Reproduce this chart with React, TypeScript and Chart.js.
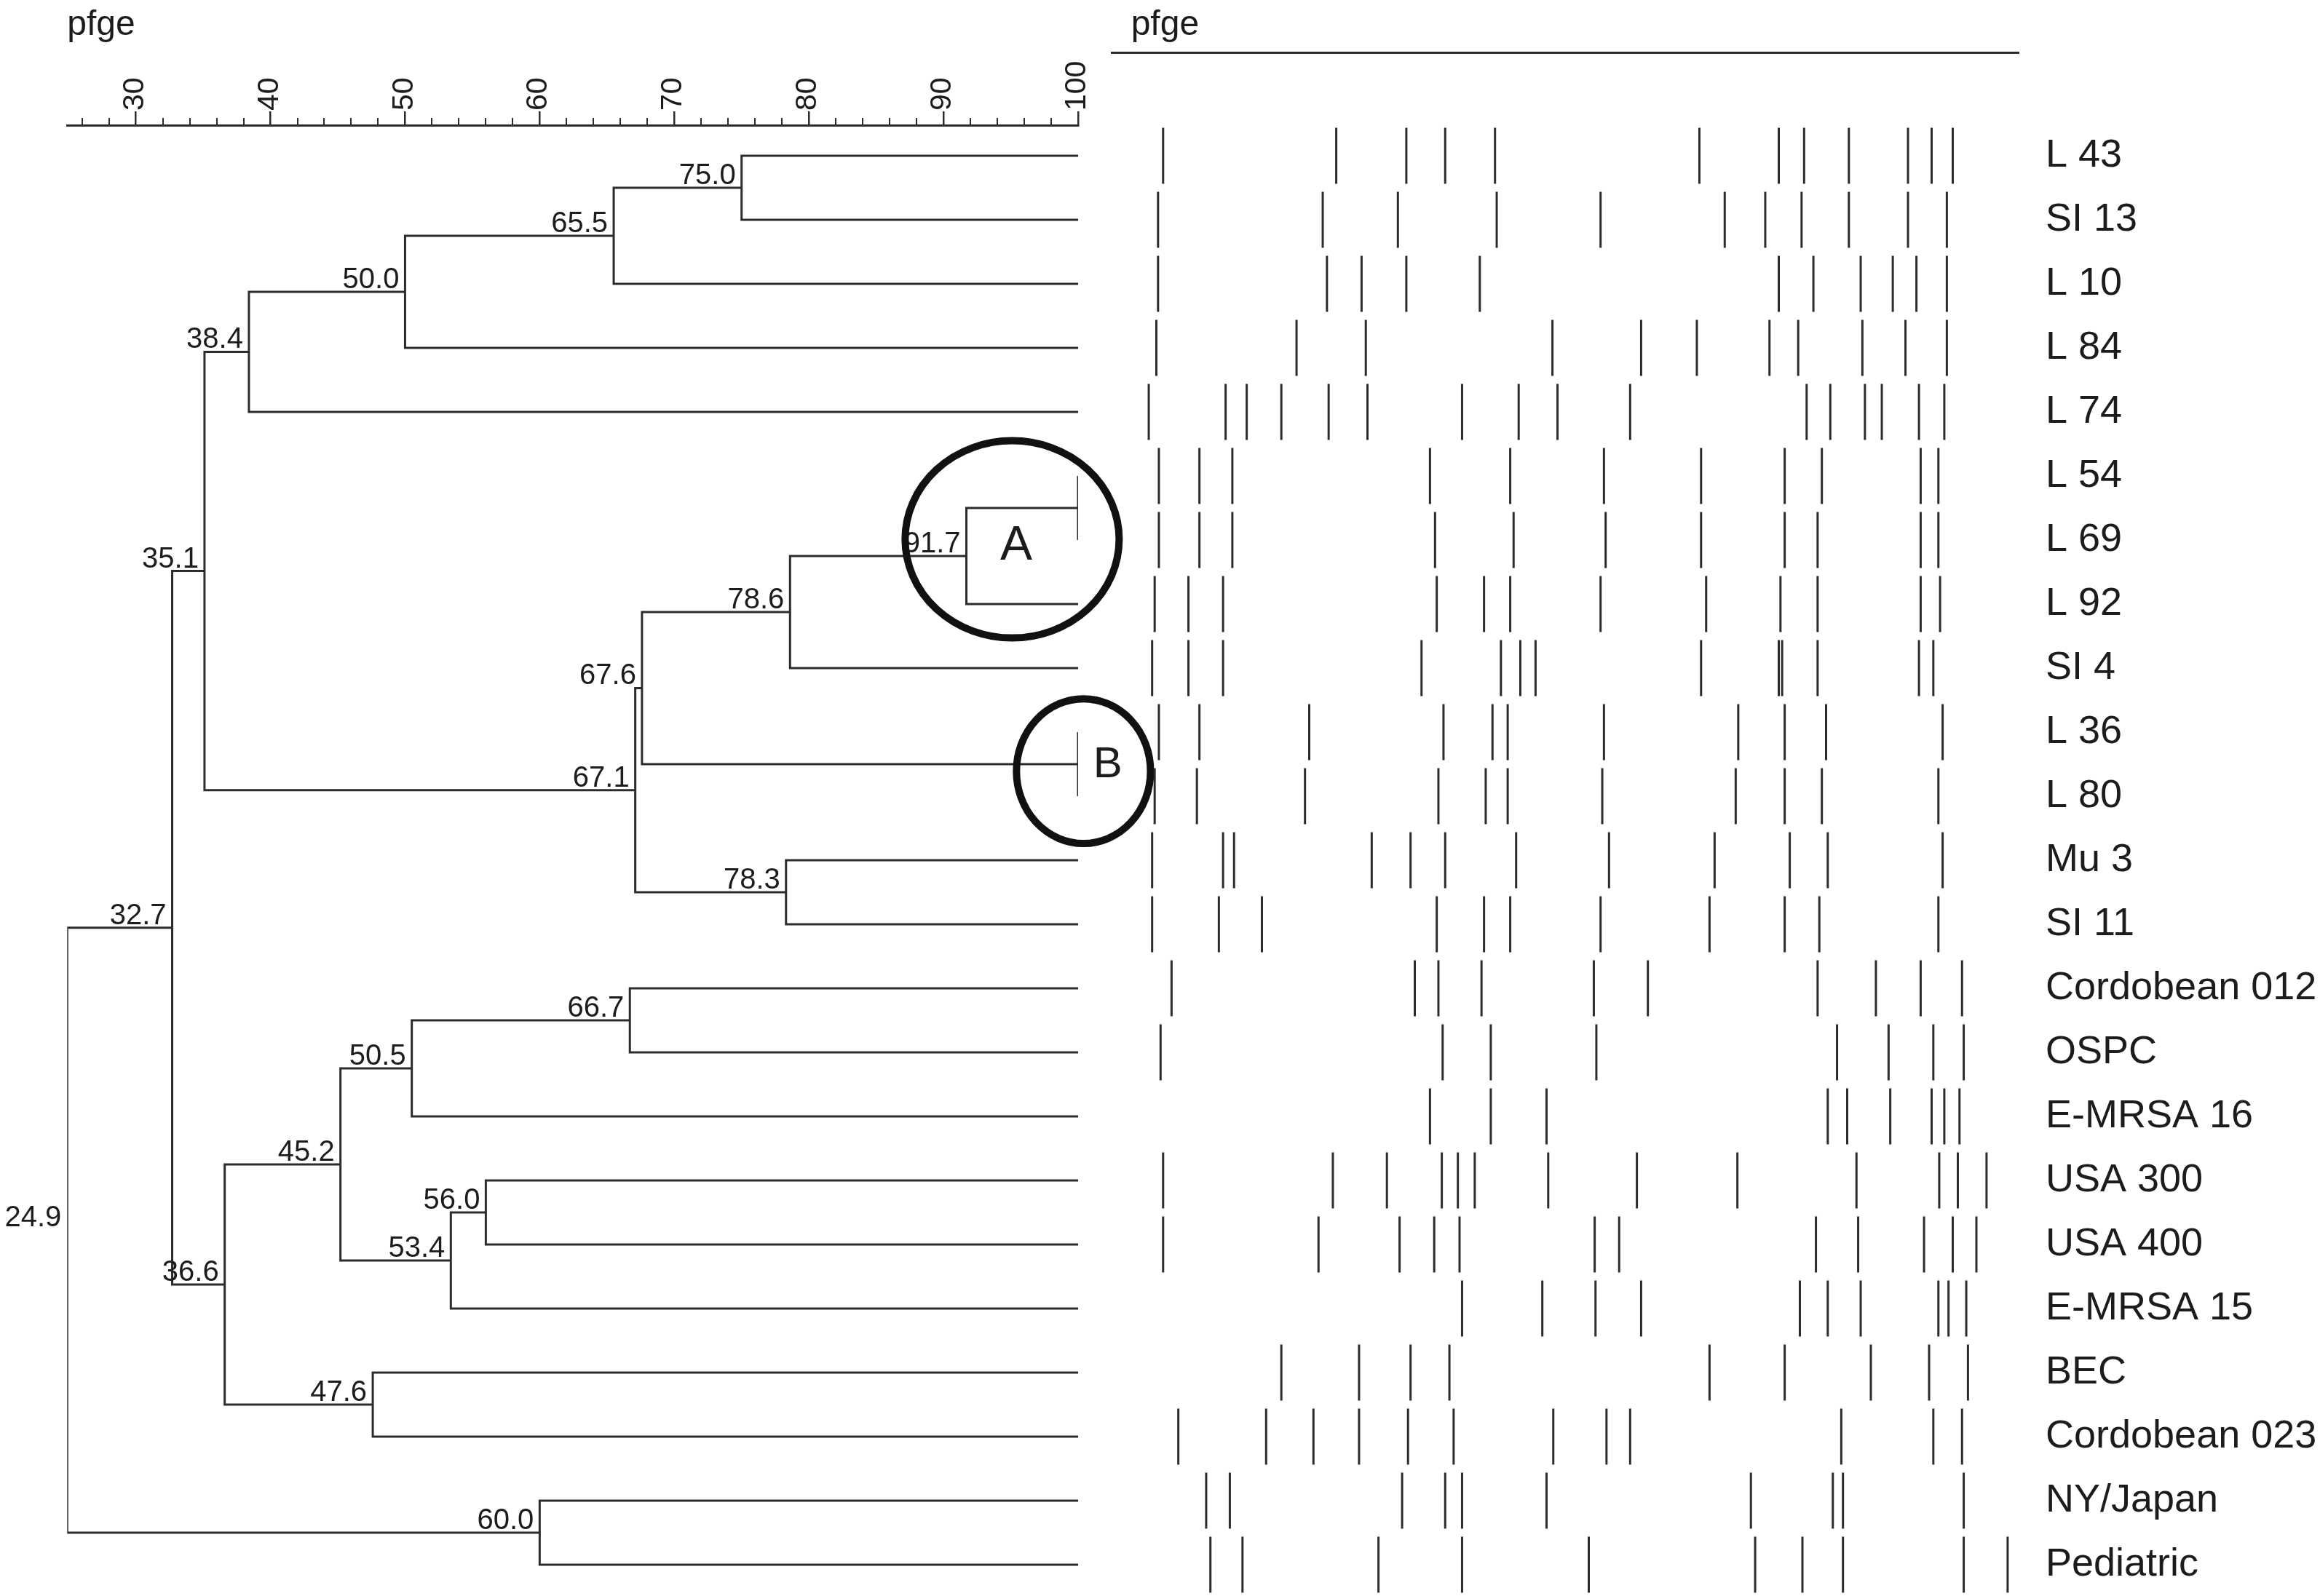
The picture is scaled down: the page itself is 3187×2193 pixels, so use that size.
import React, { useEffect, useRef } from 'react';
import { Chart, registerables } from 'chart.js';

Chart.register(...registerables);

const FONT = "'Liberation Sans', Arial, Helvetica, sans-serif";
const INK = '#1c1c1c';
const LINE = '#2c2c2c';

// ---- leaves (isolates), top to bottom ----
const isolates = [
  'L 43', 'SI 13', 'L 10', 'L 84', 'L 74', 'L 54', 'L 69', 'L 92', 'SI 4', 'L 36', 'L 80',
  'Mu 3', 'SI 11', 'Cordobean 012', 'OSPC', 'E-MRSA 16', 'USA 300', 'USA 400', 'E-MRSA 15',
  'BEC', 'Cordobean 023', 'NY/Japan', 'Pediatric',
];

// ---- PFGE band positions (relative position along the lane, 0-100) ----
const bandsL43 = [4.1, 24.6, 32.9, 37.5, 43.4, 67.6, 77.0, 80.0, 85.3, 92.3, 95.1, 97.6];
const bandsSI13 = [3.5, 23.0, 31.9, 43.6, 55.9, 70.6, 75.4, 79.7, 85.3, 92.3, 96.9];
const bandsL10 = [3.5, 23.5, 27.6, 32.9, 41.6, 77.0, 81.1, 86.7, 90.5, 93.3, 96.9];
const bandsL84 = [3.3, 19.9, 28.1, 50.2, 60.7, 67.3, 75.9, 79.3, 86.9, 92.0, 96.9];
const bandsL74 = [2.4, 11.5, 14.0, 18.1, 23.7, 28.3, 39.5, 46.2, 50.8, 59.4, 80.3, 83.1, 87.2, 89.2, 93.6, 96.6];
const bandsL54 = [3.6, 8.4, 12.3, 35.7, 45.2, 56.3, 67.8, 77.7, 82.1, 93.8, 95.9];
const bandsL69 = [3.6, 8.4, 12.3, 36.3, 45.6, 56.5, 67.8, 77.7, 81.6, 93.8, 95.9];
const bandsL92 = [3.1, 7.1, 11.2, 36.5, 42.1, 45.2, 55.9, 68.4, 77.2, 81.6, 93.8, 96.1];
const bandsSI4 = [2.8, 7.1, 11.2, 34.7, 44.1, 46.4, 48.2, 67.8, 77.0, 77.4, 81.6, 93.6, 95.3];
const bandsL36 = [3.6, 8.4, 21.4, 37.3, 43.1, 44.9, 56.3, 72.2, 77.7, 82.6, 96.4];
const bandsL80 = [3.1, 8.1, 20.9, 36.7, 42.3, 44.9, 56.1, 71.9, 77.7, 82.1, 95.9];
const bandsMu3 = [2.8, 11.2, 12.5, 28.8, 33.4, 37.5, 45.9, 56.9, 69.4, 78.3, 82.8, 96.4];
const bandsSI11 = [2.8, 10.7, 15.8, 36.5, 42.1, 45.2, 55.9, 68.8, 77.7, 81.8, 95.9];
const bandsCordobean012 = [5.1, 33.9, 36.7, 41.8, 55.1, 61.5, 81.6, 88.5, 93.8, 98.7];
const bandsOSPC = [3.8, 37.2, 42.9, 55.4, 83.9, 90.0, 95.3, 98.9];
const bandsEMRSA16 = [35.7, 42.9, 49.5, 82.8, 85.1, 90.2, 95.1, 96.6, 98.4];
const bandsUSA300 = [4.1, 24.2, 30.6, 37.1, 39.0, 41.0, 49.7, 60.2, 72.1, 86.2, 96.0, 98.2, 101.6];
const bandsUSA400 = [4.1, 22.5, 32.1, 36.2, 39.2, 55.2, 58.1, 81.4, 86.4, 94.2, 97.6, 100.4];
const bandsEMRSA15 = [39.5, 49.0, 55.3, 60.7, 79.5, 82.8, 86.7, 95.9, 97.1, 99.2];
const bandsBEC = [18.1, 27.3, 33.4, 38.0, 68.8, 77.7, 87.9, 94.8, 99.4];
const bandsCordobean023 = [5.9, 16.3, 21.9, 27.3, 33.1, 38.5, 50.3, 56.6, 59.4, 84.4, 95.3, 98.7];
const bandsNYJapan = [9.2, 12.0, 32.4, 37.5, 39.5, 49.5, 73.7, 83.4, 84.6, 98.9];
const bandsPediatric = [9.7, 13.5, 29.6, 39.5, 54.5, 74.2, 79.8, 84.6, 98.9, 104.1];

const bandRows = [
  bandsL43, bandsSI13, bandsL10, bandsL84, bandsL74, bandsL54, bandsL69, bandsL92, bandsSI4,
  bandsL36, bandsL80, bandsMu3, bandsSI11, bandsCordobean012, bandsOSPC, bandsEMRSA16,
  bandsUSA300, bandsUSA400, bandsEMRSA15, bandsBEC, bandsCordobean023, bandsNYJapan, bandsPediatric,
];

// ---- dendrogram merges (UPGMA order) ----
const mergeSimilarity = [75.0, 65.5, 50.0, 38.4, 100, 91.7, 78.6, 100, 67.6, 78.3, 67.1, 35.1,
  66.7, 50.5, 56.0, 53.4, 45.2, 47.6, 36.6, 32.7, 60.0, 24.9];
const mergeLeft = ['L 43', 'n0', 'n1', 'n2', 'L 54', 'n4', 'n5', 'L 36', 'n6', 'Mu 3', 'n8', 'n3',
  'Cordobean 012', 'n12', 'USA 300', 'n14', 'n13', 'BEC', 'n16', 'n11', 'NY/Japan', 'n19'];
const mergeRight = ['SI 13', 'L 10', 'L 84', 'L 74', 'L 69', 'L 92', 'SI 4', 'L 80', 'n7', 'SI 11', 'n9', 'n10',
  'OSPC', 'E-MRSA 16', 'USA 400', 'E-MRSA 15', 'n15', 'Cordobean 023', 'n17', 'n18', 'Pediatric', 'n20'];

// ---- similarity axis ----
const majorTicks = [30, 40, 50, 60, 70, 80, 90, 100];
const minorTicks = [26, 28, 32, 34, 36, 38, 42, 44, 46, 48, 52, 54, 56, 58, 62, 64, 66, 68,
  72, 74, 76, 78, 82, 84, 86, 88, 92, 94, 96, 98];

// ---- circled clusters ----
const clusterNames = ['A', 'B'];
const clusterSim = [95.1, 100.4];
const clusterRow = [5.99, 9.61];
const clusterHalfSim = [7.95, 4.98];
const clusterHalfRows = [1.54, 1.13];
const clusterLetterSim = [95.4, 102.2];
const clusterLetterRow = [6.1, 9.52];

type Pt = { x: number; y: number };

function buildTree() {
  const pos: Record<string, Pt> = {};
  isolates.forEach((n, i) => { pos[n] = { x: 100, y: i }; });
  const elbows: Pt[][] = [];
  const nodes: { s: number; y: number }[] = [];
  mergeSimilarity.forEach((s, k) => {
    const a = pos[mergeLeft[k]];
    const b = pos[mergeRight[k]];
    const y = (a.y + b.y) / 2;
    pos['n' + k] = { x: s, y };
    nodes.push({ s, y });
    elbows.push([{ x: a.x, y: a.y }, { x: s, y: a.y }, { x: s, y: b.y }, { x: b.x, y: b.y }]);
  });
  return { elbows, nodes };
}

export default function App() {
  const leftRef = useRef<HTMLCanvasElement>(null);
  const rightRef = useRef<HTMLCanvasElement>(null);

  useEffect(() => {
    const { elbows, nodes } = buildTree();

    const treePlugin = {
      id: 'treeDecor',
      afterDraw(chart: any) {
        const { ctx, chartArea } = chart;
        const x = chart.scales.x;
        const y = chart.scales.y;
        ctx.save();
        // minor ticks of the ruler
        ctx.strokeStyle = LINE;
        ctx.lineWidth = 2;
        minorTicks.forEach((v) => {
          const px = Math.round(x.getPixelForValue(v));
          ctx.beginPath();
          ctx.moveTo(px, chartArea.top - 10);
          ctx.lineTo(px, chartArea.top);
          ctx.stroke();
        });
        // node similarity labels
        ctx.font = `40px ${FONT}`;
        ctx.fillStyle = INK;
        ctx.textAlign = 'right';
        ctx.textBaseline = 'alphabetic';
        nodes.forEach((n) => {
          if (n.s >= 100) return;
          ctx.fillText(n.s.toFixed(1), x.getPixelForValue(n.s) - 8, y.getPixelForValue(n.y) - 5);
        });
        // circled clusters
        clusterNames.forEach((name, i) => {
          const cx = x.getPixelForValue(clusterSim[i]);
          const cy = y.getPixelForValue(clusterRow[i]);
          const rx = Math.abs(x.getPixelForValue(clusterSim[i] + clusterHalfSim[i]) - cx);
          const ry = Math.abs(y.getPixelForValue(clusterRow[i] + clusterHalfRows[i]) - cy);
          ctx.beginPath();
          ctx.ellipse(cx, cy, rx, ry, 0, 0, Math.PI * 2);
          ctx.lineWidth = 10;
          ctx.strokeStyle = '#111111';
          ctx.stroke();
          ctx.font = `${i === 0 ? 66 : 60}px ${FONT}`;
          ctx.textAlign = 'center';
          ctx.textBaseline = 'middle';
          ctx.fillStyle = INK;
          ctx.fillText(name, x.getPixelForValue(clusterLetterSim[i]), y.getPixelForValue(clusterLetterRow[i]));
        });
        ctx.restore();
      },
    };

    const left = new Chart(leftRef.current as HTMLCanvasElement, {
      type: 'scatter',
      data: {
        datasets: elbows.map((pts) => ({
          data: pts,
          showLine: true,
          borderColor: LINE,
          borderWidth: 3,
          pointRadius: 0,
          tension: 0,
          fill: false,
        })),
      },
      options: {
        responsive: false,
        animation: false,
        events: [],
        layout: { autoPadding: false, padding: { left: 92.3, right: 119, top: 0, bottom: 0 } },
        plugins: { legend: { display: false }, tooltip: { enabled: false } },
        scales: {
          x: {
            type: 'linear',
            position: 'top',
            min: 24.9,
            max: 100,
            afterBuildTicks: (s: any) => { s.ticks = majorTicks.map((v) => ({ value: v })); },
            afterFit: (s: any) => { s.height = 172; s.paddingLeft = 0; s.paddingRight = 0; },
            ticks: {
              autoSkip: false,
              minRotation: 90,
              maxRotation: 90,
              padding: 1,
              labelOffset: 48,
              color: INK,
              font: { family: FONT, size: 41 },
              callback: (v: any) => String(v),
            },
            grid: { drawOnChartArea: false, drawTicks: true, tickLength: 19, tickWidth: 2.5, tickColor: LINE, lineWidth: 2.5 },
            border: { display: true, color: LINE, width: 3 },
            title: { display: true, text: 'pfge', align: 'start', color: INK, font: { family: FONT, size: 48 }, padding: { top: 6, bottom: 0 } },
          },
          y: { type: 'linear', display: false, reverse: true, min: -0.477, max: 22.489 },
        },
      } as any,
      plugins: [treePlugin],
    });

    const right = new Chart(rightRef.current as HTMLCanvasElement, {
      type: 'scatter',
      data: {
        datasets: bandRows.map((row, i) => ({
          label: isolates[i],
          data: row.map((v) => ({ x: v, y: i })),
          showLine: false,
          pointStyle: 'line',
          pointRotation: 90,
          pointRadius: 38.5,
          pointBorderWidth: 3,
          pointBorderColor: LINE,
          pointBackgroundColor: LINE,
        })),
      },
      options: {
        responsive: false,
        animation: false,
        events: [],
        layout: { autoPadding: false, padding: { left: 27, right: 0, top: 0, bottom: 0 } },
        plugins: { legend: { display: false }, tooltip: { enabled: false } },
        scales: {
          x: {
            type: 'linear',
            position: 'top',
            min: -2,
            max: 105.4,
            afterFit: (s: any) => { s.height = 72; s.paddingLeft = 0; s.paddingRight = 0; },
            ticks: { display: false },
            grid: { display: false, drawTicks: false },
            border: { display: true, color: LINE, width: 3 },
            title: { display: true, text: '  pfge', align: 'start', color: INK, font: { family: FONT, size: 48 }, padding: { top: 6, bottom: 0 } },
          },
          y: {
            type: 'linear',
            position: 'right',
            reverse: true,
            min: -1.614,
            max: 22.489,
            afterBuildTicks: (s: any) => { s.ticks = isolates.map((_, i) => ({ value: i })); },
            afterFit: (s: any) => { s.width = 414; s.paddingTop = 0; s.paddingBottom = 0; },
            ticks: {
              autoSkip: false,
              padding: 37,
              color: INK,
              font: { family: FONT, size: 54 },
              callback: (v: any) => isolates[v as number] ?? '',
            },
            grid: { display: false, drawTicks: false },
            border: { display: false },
          },
        },
      } as any,
    });

    return () => {
      left.destroy();
      right.destroy();
    };
  }, []);

  return (
    <div style={{ position: 'absolute', left: 0, top: 0, width: 3187, height: 2193, background: '#ffffff', overflow: 'hidden' }}>
      <canvas ref={leftRef} width={1600} height={2193} style={{ position: 'absolute', left: 0, top: 0 }} />
      <canvas ref={rightRef} width={1687} height={2193} style={{ position: 'absolute', left: 1500, top: 0 }} />
    </div>
  );
}
